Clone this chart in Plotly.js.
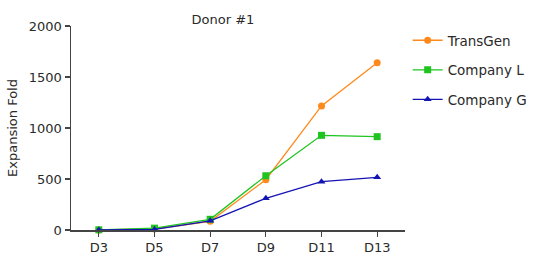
<!DOCTYPE html>
<html><head><meta charset="utf-8">
<script src="https://cdn.plot.ly/plotly-3.0.1.min.js"></script>
<style>html,body{margin:0;padding:0;background:#fff;}</style>
</head><body><div id="chart" style="width:536px;height:261px;"></div>
<script>
const days = ["D3","D5","D7","D9","D11","D13"];
const transGen = [1, 10, 85, 493, 1216, 1640];
const companyL = [2, 18, 105, 532, 928, 915];
const companyG = [1, 6, 90, 311, 474, 516];
const yTicks = [0, 500, 1000, 1500, 2000];

const font = "'DejaVu Sans', sans-serif";
function tr(name, y, color, symbol, size, grp) {
  return {x: days, y: y, name: name, type: "scatter", mode: "lines+markers",
    line: {color: color, width: 1.3}, marker: {color: color, symbol: symbol, size: size},
    legendgroup: grp, cliponaxis: false};
}
const data = [
  tr("TransGen", transGen, "#FF8A1C", "circle", 7, "a"),
  tr("Company L", companyL, "#1FC41F", "square", 7, "b"),
  tr("Company G", companyG, "#1414B4", "triangle-up", 7, "c")
];
const layout = {
  width: 536, height: 261,
  margin: {l: 71, r: 131, t: 26, b: 31, autoexpand: false},
  paper_bgcolor: "#fff", plot_bgcolor: "#fff",
  font: {family: font, size: 13, color: "#2a2a2a"},
  title: {text: "Donor #1", x: 0.416, xanchor: "center", y: 0.925, yanchor: "middle", font: {size: 13, color: "#2a2a2a", family: font}},
  xaxis: {type: "category", range: [-0.5, 5.5], showgrid: false, zeroline: false,
    showline: true, linecolor: "#444", linewidth: 1.5, ticks: "outside", ticklen: 5, tickcolor: "#444", tickwidth: 1.3,
    tickfont: {size: 13, color: "#2a2a2a"}},
  yaxis: {range: [0, 2000], tickvals: yTicks, showgrid: false, zeroline: false,
    showline: true, linecolor: "#444", linewidth: 1.5, ticks: "outside", ticklen: 5, tickcolor: "#444", tickwidth: 1.3,
    tickfont: {size: 13, color: "#2a2a2a"},
    title: {text: "Expansion Fold", font: {size: 13, color: "#2a2a2a"}, standoff: 8}},
  legend: {x: 1.008, xanchor: "left", y: 1.005, yanchor: "top", font: {size: 13.5, color: "#2a2a2a"},
    tracegroupgap: 9, bgcolor: "rgba(0,0,0,0)"},
  showlegend: true
};
Plotly.newPlot("chart", data, layout, {displayModeBar: false, staticPlot: true});
</script></body></html>
